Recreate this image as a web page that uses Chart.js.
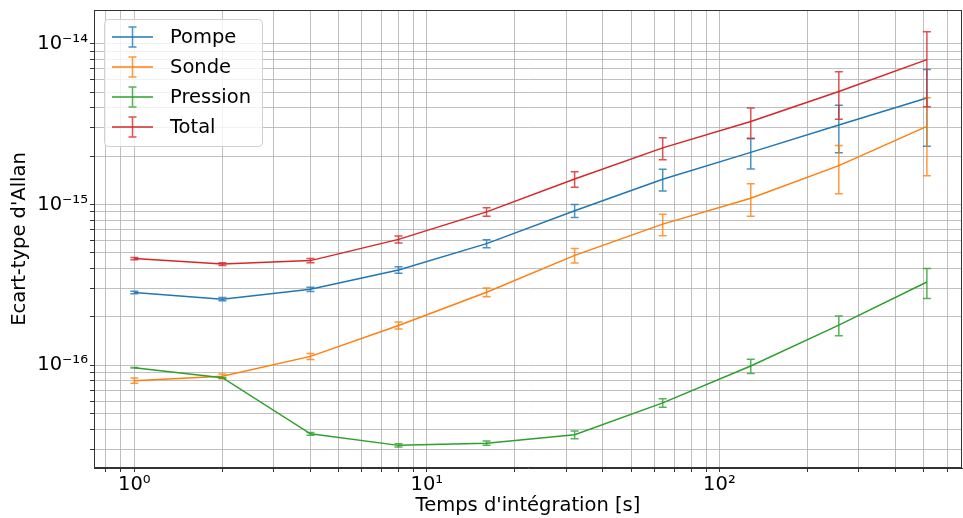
<!DOCTYPE html>
<html>
<head>
<meta charset="utf-8">
<script src="https://cdn.jsdelivr.net/npm/chart.js@4.4.1/dist/chart.umd.min.js"></script>
<style>
  html, body { margin: 0; padding: 0; background: #fff; }
</style>
</head>
<body>
<canvas id="allan" width="963" height="518"></canvas>
<script>
// Integration times (s)
const taus = [1, 2, 4, 8, 16, 32, 64, 128, 256, 512];

// Allan deviation per contribution, and their +/- errors
const pompe = [2.84e-16, 2.58e-16, 2.97e-16, 3.92e-16, 5.71e-16, 9.14e-16, 1.435e-15, 2.11e-15, 3.12e-15, 4.6e-15];
const pompeErr = [0.05e-16, 0.06e-16, 0.09e-16, 0.18e-16, 0.33e-16, 0.85e-16, 0.22e-15, 0.45e-15, 1.02e-15, 2.3e-15];

const sonde = [8.03e-17, 8.55e-17, 1.137e-16, 1.77e-16, 2.85e-16, 4.83e-16, 7.55e-16, 1.094e-15, 1.745e-15, 3.06e-15];
const sondeErr = [0.03e-16, 0.03e-16, 0.05e-16, 0.09e-16, 0.18e-16, 0.5e-16, 1.15e-16, 0.25e-15, 0.58e-15, 1.55e-15];

const pression = [9.66e-17, 8.38e-17, 3.75e-17, 3.18e-17, 3.28e-17, 3.70e-17, 5.84e-17, 9.9e-17, 1.78e-16, 3.3e-16];
const pressionErr = [0.02e-17, 0.03e-17, 0.08e-17, 0.07e-17, 0.1e-17, 0.2e-17, 0.35e-17, 0.1e-16, 0.25e-16, 0.7e-16];

const total = [4.61e-16, 4.26e-16, 4.48e-16, 6.07e-16, 9.0e-16, 1.44e-15, 2.25e-15, 3.28e-15, 5.04e-15, 7.96e-15];
const totalErr = [0.07e-16, 0.08e-16, 0.13e-16, 0.3e-16, 0.55e-16, 0.16e-15, 0.35e-15, 0.7e-15, 1.65e-15, 3.9e-15];

const labels = ['Pompe', 'Sonde', 'Pression', 'Total'];
const colors = ['#1f77b4', '#ff7f0e', '#2ca02c', '#d62728'];

// axis ranges
const xRange = [0.728, 675];
const yRange = [2.3e-17, 1.62e-14];

const FONT = "'DejaVu Sans', sans-serif";
const FS = 19.5;

const SUP = { '-': '\u207B', '0': '\u2070', '1': '\u00B9', '2': '\u00B2', '3': '\u00B3',
  '4': '\u2074', '5': '\u2075', '6': '\u2076', '7': '\u2077', '8': '\u2078', '9': '\u2079' };

function powLabel(v) {
  const e = String(Math.round(Math.log10(v)));
  return '10' + e.split('').map(c => SUP[c]).join('');
}

// 1..9 x 10^n ticks, decades flagged as major
function logTicks(min, max) {
  const out = [];
  for (let e = Math.floor(Math.log10(min)); e <= Math.ceil(Math.log10(max)); e++) {
    for (let k = 1; k < 10; k++) {
      const v = k * Math.pow(10, e);
      if (v >= min && v <= max) out.push({ value: v, major: k === 1 });
    }
  }
  return out;
}

// replace generated ticks and keep the exact axis limits
function fixTicks(range) {
  return s => {
    s.ticks = logTicks(range[0], range[1]);
    s.min = range[0];
    s.max = range[1];
  };
}

function hexA(hex, a) {
  const n = parseInt(hex.slice(1), 16);
  return `rgba(${n >> 16}, ${(n >> 8) & 255}, ${n & 255}, ${a})`;
}

function series(i, ys, errs) {
  return {
    label: labels[i],
    data: taus.map((t, j) => ({ x: t, y: ys[j] })),
    errors: errs,
    borderColor: colors[i],
    backgroundColor: colors[i],
    borderWidth: 1.5,
    pointRadius: 0,
    tension: 0,
    order: 3 - i,
  };
}

// vertical error bars with caps, drawn right after each line
const errorBars = {
  id: 'errorBars',
  afterDatasetDraw(chart, args) {
    const ds = chart.data.datasets[args.index];
    if (!ds.errors) return;
    const ctx = chart.ctx;
    const ys = chart.scales.y;
    ctx.save();
    ctx.strokeStyle = hexA(ds.borderColor, 0.8);
    ctx.lineWidth = 1.5;
    args.meta.data.forEach((pt, j) => {
      const v = ds.data[j].y;
      const e = ds.errors[j];
      const top = ys.getPixelForValue(v + e);
      const bot = ys.getPixelForValue(Math.max(v - e, yRange[0] * 0.5));
      ctx.beginPath();
      ctx.moveTo(pt.x, top); ctx.lineTo(pt.x, bot);
      ctx.moveTo(pt.x - 4, top); ctx.lineTo(pt.x + 4, top);
      ctx.moveTo(pt.x - 4, bot); ctx.lineTo(pt.x + 4, bot);
      ctx.stroke();
    });
    ctx.restore();
  }
};

// axes frame + matplotlib-like legend box in the upper left
const frameAndLegend = {
  id: 'frameAndLegend',
  afterDraw(chart) {
    const ctx = chart.ctx;
    const a = chart.chartArea;
    ctx.save();
    ctx.strokeStyle = '#333';
    ctx.lineWidth = 1;
    ctx.strokeRect(Math.round(a.left) + 0.5, Math.round(a.top) + 0.5,
      Math.round(a.right - a.left) - 1, Math.round(a.bottom - a.top) - 1);

    ctx.font = `${FS}px ${FONT}`;
    const pad = 8;
    const bx = a.left + 10, by = a.top + 9;
    const handleX = bx + pad, handleW = 41;
    const textX = handleX + handleW + 17;
    const rowH = 30;
    const maxW = Math.max(...chart.data.datasets.map(d => ctx.measureText(d.label).width));
    const bw = textX - bx + maxW + pad + 3;
    const bh = rowH * chart.data.datasets.length + 7;

    ctx.beginPath();
    ctx.roundRect(bx + 0.5, by + 0.5, bw, bh, 4);
    ctx.fillStyle = 'rgba(255,255,255,0.8)';
    ctx.fill();
    ctx.strokeStyle = '#d0d0d0';
    ctx.stroke();

    chart.data.datasets.forEach((d, i) => {
      const cy = by + 18 + i * rowH;
      const cx = handleX + handleW / 2;
      ctx.strokeStyle = d.borderColor;
      ctx.lineWidth = 1.5;
      ctx.beginPath();
      ctx.moveTo(handleX, cy); ctx.lineTo(handleX + handleW, cy);
      ctx.stroke();
      ctx.strokeStyle = hexA(d.borderColor, 0.8);
      ctx.beginPath();
      ctx.moveTo(cx, cy - 10); ctx.lineTo(cx, cy + 10);
      ctx.moveTo(cx - 4, cy - 10); ctx.lineTo(cx + 4, cy - 10);
      ctx.moveTo(cx - 4, cy + 10); ctx.lineTo(cx + 4, cy + 10);
      ctx.stroke();
      ctx.fillStyle = '#000';
      ctx.textBaseline = 'middle';
      ctx.textAlign = 'left';
      ctx.fillText(d.label, textX, cy + 1);
    });
    ctx.restore();
  }
};

const gridOpts = {
  color: 'rgba(176,176,176,0.8)',
  lineWidth: 1,
  tickColor: '#333',
  tickLength: 4,
};

new Chart(document.getElementById('allan'), {
  type: 'line',
  data: {
    datasets: [
      series(0, pompe, pompeErr),
      series(1, sonde, sondeErr),
      series(2, pression, pressionErr),
      series(3, total, totalErr),
    ],
  },
  options: {
    responsive: false,
    animation: false,
    events: [],
    layout: { padding: { top: 10, right: 1, left: 0, bottom: 0 } },
    plugins: {
      legend: { display: false },
      tooltip: { enabled: false },
    },
    scales: {
      x: {
        type: 'logarithmic',
        min: xRange[0],
        max: xRange[1],
        afterBuildTicks: fixTicks(xRange),
        afterFit: s => { s.height = 50; s.paddingLeft = 0; s.paddingRight = 0; },
        grid: gridOpts,
        border: { color: '#333', width: 1 },
        ticks: {
          autoSkip: false,
          maxRotation: 0,
          padding: 1,
          color: '#000',
          font: { family: FONT, size: FS },
          callback: (v, i, t) => (t[i].major ? powLabel(v) : ''),
        },
        title: {
          display: true,
          text: "Temps d'intégration [s]",
          color: '#000',
          font: { family: FONT, size: FS },
          padding: { top: 0, bottom: 0 },
        },
      },
      y: {
        type: 'logarithmic',
        min: yRange[0],
        max: yRange[1],
        afterBuildTicks: fixTicks(yRange),
        afterFit: s => { s.width = 94; s.paddingTop = 0; s.paddingBottom = 0; },
        grid: gridOpts,
        border: { color: '#333', width: 1 },
        ticks: {
          autoSkip: false,
          padding: 2,
          color: '#000',
          font: { family: FONT, size: FS },
          callback: (v, i, t) => (t[i].major ? powLabel(v) : ''),
        },
        title: {
          display: true,
          text: "Ecart-type d'Allan",
          color: '#000',
          font: { family: FONT, size: FS },
          padding: { top: 8, bottom: 0 },
        },
      },
    },
  },
  plugins: [errorBars, frameAndLegend],
});
</script>
</body>
</html>
